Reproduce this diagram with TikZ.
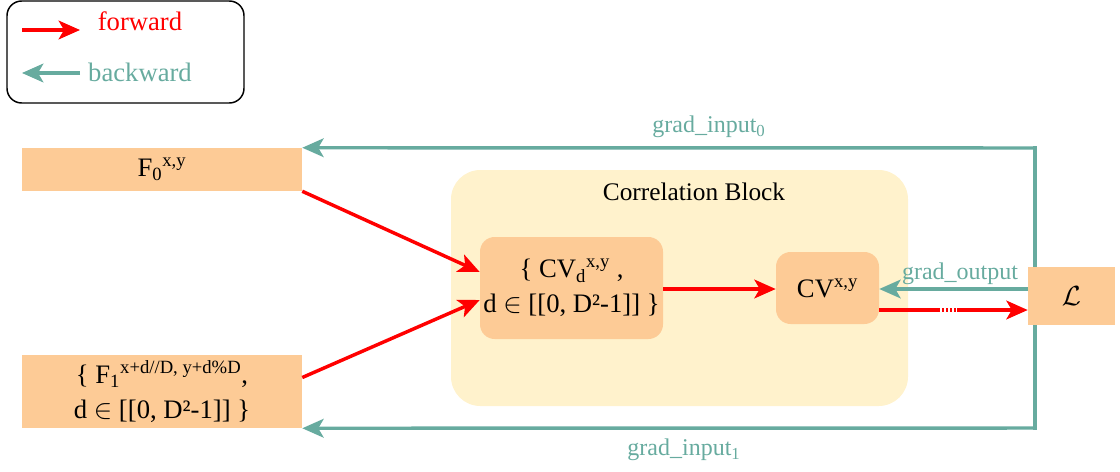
\documentclass[tikz,border=0pt]{standalone}
\usepackage{fontspec}
\setmainfont{Liberation Serif}
\usetikzlibrary{arrows.meta,calc}
\definecolor{fwd}{HTML}{FF0000}
\definecolor{bwd}{HTML}{67AB9F}
\definecolor{boxfill}{HTML}{FDCB96}
\definecolor{blockfill}{HTML}{FFF2CC}
\tikzset{
  box/.style={fill=boxfill, draw=none, inner sep=0pt, align=center, font=\fontsize{20}{26}\selectfont},
  rbox/.style={box, rounded corners=11pt},
  fwdarrow/.style={draw=fwd, line width=2.6pt, -{Stealth[length=16pt,width=14pt,inset=4pt]}},
  bwdarrow/.style={draw=bwd, line width=2.6pt, -{Stealth[length=16pt,width=14pt,inset=4pt]}},
  bwdline/.style={draw=bwd, line width=2.6pt},
  lbl/.style={inner sep=0pt, font=\fontsize{18}{22}\selectfont},
}
\begin{document}
\begin{tikzpicture}[x=0.75pt,y=-0.75pt]
\useasboundingbox (0,0) rectangle (1120,471);
% legend
\draw[black, line width=1.1pt, rounded corners=11pt] (7,1) rectangle (244,103);
\coordinate (lf1) at (22,30);
\coordinate (lf2) at (80,30);
\coordinate (lb1) at (80,73);
\coordinate (lb2) at (22,73);
\draw[fwdarrow] (lf1) -- (lf2);
\draw[bwdarrow] (lb1) -- (lb2);
\node[lbl, text=fwd, font=\fontsize{20}{24}\selectfont] (tf) at (140,21) {forward};
\node[lbl, text=bwd, font=\fontsize{20}{24}\selectfont] (tb) at (140,72) {backward};

% correlation block
\node[fill=blockfill, rounded corners=22pt, minimum width=457*0.75pt, minimum height=236*0.75pt, inner sep=0pt] (blk) at (679.5,288) {};
\node[lbl, font=\fontsize{19}{22}\selectfont] (blkt) at (694,192) {Correlation Block};

% nodes
\node[box, minimum width=280*0.75pt, minimum height=43*0.75pt] (f0) at (162,169.5) {F\textsubscript{0}\textsuperscript{x,y}};
\node[box, minimum width=280*0.75pt, minimum height=73*0.75pt] (f1) at (162,391.5) {\{ F\textsubscript{1}\textsuperscript{x+d//D, y+d\%D},\\ d $\in$ [[0, D²-1]] \}};
\node[rbox, minimum width=183*0.75pt, minimum height=102*0.75pt] (cvd) at (571.5,288) {\{ CV\textsubscript{d}\textsuperscript{x,y} ,\\ d $\in$ [[0, D²-1]] \}};
\node[rbox, minimum width=103*0.75pt, minimum height=72*0.75pt] (cv) at (827.5,288) {CV\textsuperscript{x,y}};

% backward loop (behind L)
\coordinate (ctop) at (1035,148);
\coordinate (cbot) at (1035,428);
\draw[bwdline, line cap=rect] (ctop) -- (cbot);
\draw[bwdarrow] (ctop) -- (f0.north east);
\draw[bwdarrow] (cbot) -- (f1.south east);
\node[lbl, text=bwd] (gi0) at (709,127) {grad\_input\textsubscript{0}};
\node[lbl, text=bwd] (gi1) at (684,450) {grad\_input\textsubscript{1}};

\node[box, minimum width=87*0.75pt, minimum height=58*0.75pt] (L) at (1071.5,296) {$\mathcal{L}$};

% forward arrows
\draw[fwdarrow] (f0.south east) -- ($(cvd.west)+(0,-16)$);
\draw[fwdarrow] ($(f1.east)+(0,-14)$) -- ($(cvd.west)+(0,12)$);
\draw[fwdarrow] ($(cvd.east)+(0,1)$) -- ($(cv.west)+(0,1)$);
\coordinate (g1) at (940,310);
\coordinate (g2) at (957,310);
\draw[fwdarrow] ($(cv.east)+(0,22)$) -- ($(L.west)+(0,14)$);
\draw[white, line width=2.8pt, dash pattern=on 1.5pt off 1.5pt] (g1) -- (g2);

% grad_output
\draw[bwdarrow] ($(L.west)+(0,-7)$) -- ($(cv.east)+(0,1)$);
\node[lbl, text=bwd] (go) at (960,274) {grad\_output};
\end{tikzpicture}
\end{document}
